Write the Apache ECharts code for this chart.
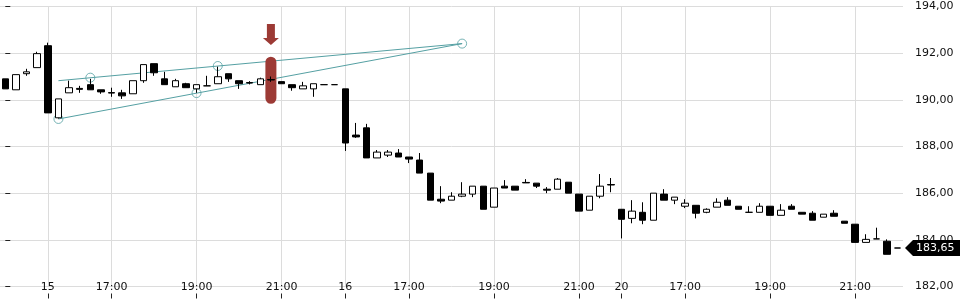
<!DOCTYPE html>
<html><head><meta charset="utf-8">
<script src="https://cdn.jsdelivr.net/npm/echarts@6/dist/echarts.min.js"></script>
<style>html,body{margin:0;padding:0;background:#fff}#c{width:960px;height:300px}</style>
</head><body><div id="c"></div>
<script>
// sessions: [day, first candle time, number of 15-min candles]
const sessions = [['14','21:30',4],['15','15:30',28],['16','15:30',26],['20','15:30',27]];
const timeLabels = ['17:00','19:00','21:00'];
const yTicks = [182,184,186,188,190,192,194];

const opens  = [190.90,190.43,191.12,191.38,192.32,189.23,190.30,190.49,190.65,190.43,
                190.31,190.30,190.26,190.82,191.55,190.90,190.56,190.69,190.47,190.60,
                190.69,191.12,190.82,190.74,190.65,190.87,190.78,190.65,190.47,190.47,
                190.65,190.65,190.47,188.49,188.80,187.51,187.63,187.72,187.55,187.42,
                186.86,185.74,185.70,185.87,185.96,186.30,185.40,186.30,186.30,186.46,
                186.43,186.17,186.17,186.47,185.96,185.27,185.87,186.37,185.31,184.92,
                185.18,184.84,185.96,185.70,185.44,185.48,185.18,185.40,185.70,185.44,
                185.18,185.18,185.44,185.05,185.44,185.18,185.14,184.97,185.14,184.80,
                184.67,183.89,184.04,183.94,183.65];
const closes = [190.47,191.08,191.20,191.98,189.44,190.04,190.52,190.45,190.43,190.34,
                190.29,190.17,190.82,191.51,191.16,190.65,190.82,190.52,190.65,190.60,
                190.99,190.90,190.69,190.72,190.90,190.85,190.69,190.52,190.60,190.69,
                190.65,190.65,188.15,188.41,187.51,187.76,187.76,187.55,187.46,186.86,
                185.70,185.66,185.87,185.96,186.30,185.31,186.22,186.22,186.13,186.44,
                186.30,186.13,186.60,186.00,185.23,185.87,186.30,186.35,184.88,185.23,
                184.84,186.00,185.70,185.83,185.57,185.14,185.31,185.61,185.48,185.31,
                185.18,185.44,185.05,185.27,185.31,185.10,184.84,185.10,185.01,184.71,
                183.89,184.02,184.04,183.38,183.65];
const lows   = [190.47,190.43,191.03,191.38,189.44,189.20,190.30,190.30,190.43,190.26,
                190.13,190.04,190.26,190.73,191.03,190.65,190.56,190.52,190.30,190.60,
                190.69,190.77,190.47,190.66,190.65,190.77,190.69,190.39,190.47,190.13,
                190.65,190.65,187.81,188.37,187.51,187.51,187.55,187.55,187.29,186.86,
                185.70,185.57,185.70,185.83,185.83,185.31,185.40,186.22,186.13,186.44,
                186.22,186.00,186.17,186.00,185.23,185.27,185.78,186.04,184.06,184.71,
                184.67,184.84,185.70,185.53,185.36,184.92,185.14,185.40,185.48,185.31,
                185.18,185.18,185.05,185.05,185.31,185.10,184.84,184.97,185.01,184.71,
                183.89,183.89,184.04,183.38,183.65];
const highs  = [190.90,191.08,191.33,192.06,192.45,190.04,190.82,190.60,190.90,190.43,
                190.52,190.43,190.82,191.51,191.55,191.20,190.90,190.73,190.65,191.03,
                191.42,191.12,190.82,190.80,190.95,191.00,190.78,190.65,190.77,190.69,
                190.65,190.65,190.47,189.01,188.97,187.85,187.85,187.89,187.55,187.72,
                186.86,186.30,186.04,186.47,186.30,186.30,186.22,186.56,186.30,186.60,
                186.43,186.26,186.65,186.47,185.96,185.87,186.82,186.65,185.31,185.70,
                185.61,186.00,186.17,185.83,185.74,185.48,185.35,185.78,185.83,185.44,
                185.44,185.57,185.44,185.53,185.53,185.18,185.23,185.10,185.27,184.80,
                184.67,184.24,184.52,184.02,183.65];

// drawing annotations (candle index, price)
const upperLine = [[5,190.82],[43,192.41]];
const lowerLine = [[5,189.18],[43,192.41]];
const anchorPoints = [[5,189.18],[8,190.95],[18,190.29],[20,191.45],[43,192.41]];
const highlightBar = [[25,191.85,189.83]];
const arrowMark = [[25,193.25,192.35]];
const lastPrice = 183.65;

// build categories
const categories = [];
sessions.forEach(([day, start, n]) => {
  let [h, m] = start.split(':').map(Number);
  for (let i = 0; i < n; i++) {
    categories.push(day + ' ' + String(h).padStart(2,'0') + ':' + String(m).padStart(2,'0'));
    m += 15; if (m >= 60) { m -= 60; h++; }
  }
});
const labelText = (v) => {
  const [day, t] = v.split(' ');
  if (t === '15:30' && day !== sessions[0][0]) return day;
  if (timeLabels.indexOf(t) >= 0) return t;
  return '';
};
const showIdx = (i, v) => labelText(v) !== '';

const ohlc = opens.map((o, i) => [o, closes[i], lows[i], highs[i]]);
const fmt = v => v.toFixed(2).replace('.', ',');
const teal = '#55a0a3';
const nCat = categories.length;

const chart = echarts.init(document.getElementById('c'), null, {renderer: 'canvas'});
chart.setOption({
  animation: false,
  backgroundColor: '#fff',
  textStyle: {fontFamily: 'DejaVu Sans'},
  grid: {left: 0, right: 57, top: 6.5, bottom: 13.5, containLabel: false},
  xAxis: [{
    type: 'category', data: categories, boundaryGap: true, offset: 7,
    axisLine: {show: false},
    axisTick: {show: true, interval: showIdx, alignWithLabel: true, length: 5, lineStyle: {color: '#222'}},
    axisLabel: {interval: showIdx, formatter: labelText, margin: -6, verticalAlign: 'middle',
                color: '#111', fontSize: 11, fontFamily: 'DejaVu Sans'},
    splitLine: {show: true, interval: showIdx, alignWithLabel: true, lineStyle: {color: '#dcdcdc', width: 1}}
  }, {
    type: 'value', min: -0.5, max: nCat - 0.5, show: false
  }],
  yAxis: {
    type: 'value', position: 'right', min: yTicks[0], max: yTicks[yTicks.length-1], interval: 2,
    axisLine: {show: false},
    axisTick: {show: true, length: 5, lineStyle: {color: '#222'}},
    axisLabel: {formatter: fmt, margin: 12, color: '#111', fontSize: 11, fontFamily: 'DejaVu Sans'},
    splitLine: {show: true, lineStyle: {color: '#dcdcdc', width: 1}}
  },
  series: [
    {type: 'line', xAxisIndex: 1, data: upperLine, symbol: 'none', z: 1,
     lineStyle: {color: teal, width: 1}},
    {type: 'line', xAxisIndex: 1, data: lowerLine, symbol: 'none', z: 1,
     lineStyle: {color: teal, width: 1}},
    {type: 'scatter', xAxisIndex: 1, data: anchorPoints, symbol: 'circle', symbolSize: 9, z: 1,
     itemStyle: {color: 'rgba(255,255,255,0)', borderColor: teal, borderWidth: 1}},
    {type: 'custom', xAxisIndex: 1, data: highlightBar, z: 2, encode: {x: 0, y: 1},
     renderItem: (params, api) => {
       const t = api.coord([api.value(0), api.value(1)]);
       const b = api.coord([api.value(0), api.value(2)]);
       const w = 11;
       return {type: 'rect', shape: {x: t[0] - w/2, y: t[1], width: w, height: b[1] - t[1], r: w/2},
               style: {fill: '#9c3a35'}};
     }},
    {type: 'custom', xAxisIndex: 1, data: arrowMark, z: 2, encode: {x: 0, y: 1},
     renderItem: (params, api) => {
       const t = api.coord([api.value(0), api.value(1)]);
       const b = api.coord([api.value(0), api.value(2)]);
       const x = t[0], hh = 7, sw = 4, hw = 8;
       return {type: 'polygon', shape: {points: [
         [x - sw, t[1]], [x + sw, t[1]], [x + sw, b[1] - hh], [x + hw, b[1] - hh],
         [x, b[1]], [x - hw, b[1] - hh], [x - sw, b[1] - hh]]},
         style: {fill: '#9c3a35'}};
     }},
    {type: 'candlestick', data: ohlc, barWidth: 7, z: 3,
     itemStyle: {color: '#fff', color0: '#000', borderColor: '#000', borderColor0: '#000',
                 borderColorDoji: '#000', borderWidth: 1}},
    {type: 'custom', xAxisIndex: 1, data: [[nCat - 1, lastPrice]], z: 5, clip: false, encode: {x: 0, y: 1},
     renderItem: (params, api) => {
       const p = api.coord([api.value(0), api.value(1)]);
       const cs = params.coordSys;
       const x0 = cs.x + cs.width + 2, y = p[1], h = 8;
       return {type: 'group', children: [
         {type: 'polygon', shape: {points: [[x0, y], [x0 + 8, y - h], [960, y - h], [960, y + h], [x0 + 8, y + h]]},
          style: {fill: '#000'}},
         {type: 'text', style: {text: fmt(api.value(1)), x: x0 + 11, y: y, verticalAlign: 'middle',
          fill: '#fff', font: '11px "DejaVu Sans"'}}
       ]};
     }}
  ]
});
</script></body></html>
